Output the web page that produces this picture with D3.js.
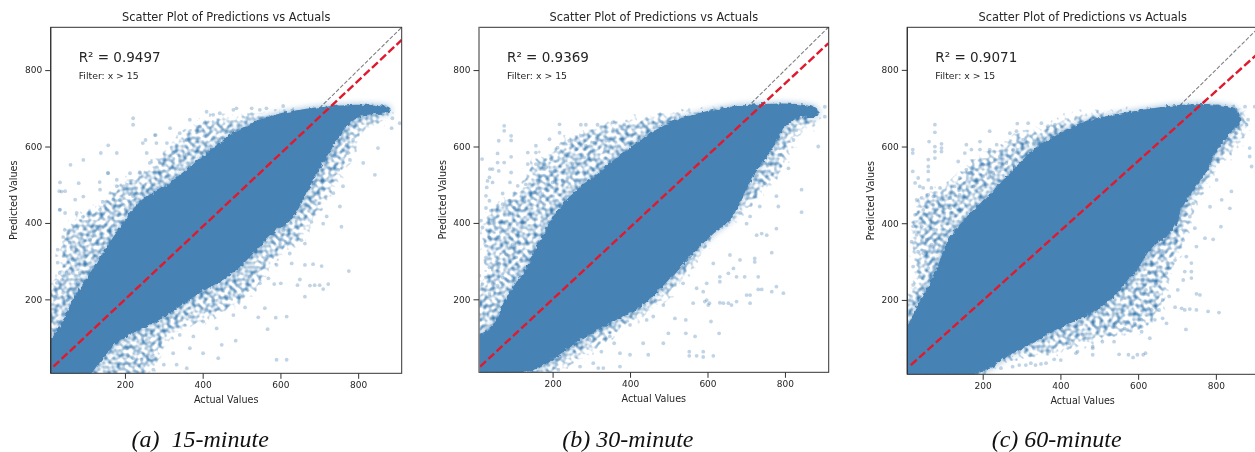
<!DOCTYPE html>
<html>
<head>
<meta charset="utf-8">
<script src="https://cdn.jsdelivr.net/npm/d3@7"></script>
<style>
  html, body { margin: 0; padding: 0; background: #fff; overflow: hidden; }
  svg { display: block; filter: blur(0.3px); }
  text { font-family: "DejaVu Sans", sans-serif; fill: #262626; }
  .caption { font-family: "Liberation Serif", serif; font-style: italic; fill: #111; }
</style>
</head>
<body>
<div id="chart"></div>
<script>
// Values
const captions = ["(a)  15-minute", "(b) 30-minute", "(c) 60-minute"];
const r2Values = ["0.9497", "0.9369", "0.9071"];
const tickValues = [200, 400, 600, 800];
const titleText = "Scatter Plot of Predictions vs Actuals";
const filterText = "Filter: x > 15";
const xLabel = "Actual Values";
const yLabel = "Predicted Values";

// [actual, predicted] ends of the fitted (red) line
const fit15 = [[16, 24], [912, 879]];
const fit30 = [[13, 24], [912, 870]];
const fit60 = [[15, 30], [912, 846]];

// solid part of each cloud, upper edge then lower edge
const coreUpper15 = [[12,102],[50,165],[66,199],[110,269],[153,337],[238,455],[308,500],[367,547],[478,635],[565,677],[650,696],[735,706],[823,709],[882,701]];
const coreLower15 = [[882,690],[823,683],[779,662],[735,599],[694,531],[632,416],[581,374],[478,269],[393,217],[290,147],[179,86],[135,34],[117,8]];
const coreUpper30 = [[10,105],[49,139],[80,204],[132,283],[158,335],[217,439],[269,492],[313,528],[365,570],[432,620],[484,654],[535,675],[638,701],[742,711],[830,711],[884,698]];
const coreLower30 = [[884,680],[830,675],[794,641],[768,596],[716,518],[682,450],[657,405],[623,379],[553,309],[483,230],[424,178],[346,136],[269,92],[210,47],[148,13],[122,8]];
const coreUpper60 = [[7,135],[31,187],[46,208],[82,286],[116,364],[160,417],[237,495],[288,550],[340,600],[406,638],[458,664],[509,677],[612,696],[715,709],[802,709],[854,696],[862,662]];
const coreLower60 = [[844,643],[810,599],[777,539],[715,443],[689,383],[630,330],[597,278],[545,218],[494,174],[406,130],[329,88],[262,51],[211,17],[185,9]];

// speckled band around the solid part
const hazeUpper15 = [[14,251],[32,382],[76,426],[135,460],[187,513],[238,539],[308,609],[393,677],[478,690],[606,703],[735,711],[823,714],[890,703]];
const hazeLower15 = [[890,669],[823,635],[787,565],[735,468],[694,408],[650,337],[591,296],[529,207],[437,147],[323,94],[290,16],[264,8]];
const hazeUpper30 = [[11,248],[11,405],[29,439],[80,476],[114,502],[148,581],[192,588],[225,628],[269,646],[365,675],[432,685],[520,701],[613,706],[742,714],[830,714],[889,706]];
const hazeLower30 = [[894,654],[838,628],[804,536],[742,466],[682,405],[638,379],[571,283],[520,215],[432,144],[365,100],[287,39],[225,13],[210,8]];
const hazeUpper60 = [[13,234],[8,390],[26,461],[72,495],[123,521],[160,565],[227,599],[270,636],[347,656],[406,683],[509,701],[630,706],[715,711],[818,717],[880,703]];
const hazeLower60 = [[888,643],[862,591],[818,547],[785,495],[751,435],[733,364],[690,260],[664,166],[612,114],[561,104],[476,78],[391,51],[288,36],[227,17],[214,9]];

// single dots that stand apart from the cloud
const points15 = [[776,274],[723,240],[701,237],[688,237],[710,227],[676,236],[644,237],[650,252],[663,207],[706,287],[684,292],[663,290],[629,294],[601,242],[584,240],[616,155],[588,152],[567,122],[543,153],[560,177],[509,179],[485,92],[449,81],[440,46],[616,42],[590,42],[401,59],[367,72],[359,20],[333,29],[300,29],[273,16],[243,42],[269,50],[341,107],[401,142],[436,124],[479,159],[547,242],[569,255],[590,290],[624,320],[654,355],[663,346],[680,403],[710,398],[757,390],[607,381],[599,346],[564,311],[521,259],[461,207],[410,172],[367,155],[290,85],[221,46],[204,72],[256,94],[324,59],[376,103],[427,198],[496,211],
  [843,526],[813,557],[851,596],[888,674],[886,648],[907,661],[770,604],[749,539],[761,496],[736,478],[701,452],[740,574],[779,565],[787,617],[774,583],[719,417],[753,443],
  [221,674],[221,657],[157,603],[179,583],[138,583],[60,552],[93,565],[33,506],[81,504],[31,483],[46,483],[33,435],[72,461],[93,469],[46,426],[136,435],[157,530],[179,496],[239,530],[279,630],[253,617],[281,609],[256,583],[316,648],[341,635],[367,670],[410,691],[427,683],[393,652],[444,687],[479,696],[487,700],[526,700],[607,706],[547,696],[564,700],[359,617],[290,557],[213,530],[196,496],[136,487],[170,461],[221,470],[106,426],[76,426],
  [37,482],[32,434],[45,382],[41,363],[27,330],[66,303],[32,269],[25,243],[84,269],[41,217],[92,416],[135,382],[110,426],[76,330],[58,348],[92,348],[71,225],[27,296],[50,269],[66,269],[20,207],[53,199],[38,251],[79,243],[97,311],[110,356],[128,390],[143,455],[156,531],[179,513],[135,507],[187,460],[205,500],[238,533],[264,557],[277,630],[246,609],[308,609],[324,583],[359,578]];
const points30 = [[796,216],[778,233],[766,220],[740,226],[731,226],[710,211],[701,211],[710,190],[675,194],[662,185],[654,190],[641,190],[632,191],[605,190],[593,194],[602,185],[630,111],[609,142],[568,103],[544,146],[544,111],[615,52],[589,63],[589,49],[572,52],[553,63],[553,52],[447,55],[434,85],[486,85],[374,24],[331,20],[318,20],[326,63],[305,33],[271,24],[215,16],[184,33],[163,24],[400,55],[374,59],[359,85],[400,133],[443,146],[499,111],[516,150],[563,190],[598,198],[589,220],[537,242],[766,322],[778,385],[753,368],[722,307],[722,298],[731,259],[696,259],[675,259],[667,281],[684,303],[658,316],[654,268],[632,259],[632,246],[615,294],[598,242],[572,229],[486,185],[460,155],[348,103],[296,94],[253,77],[740,372],[727,368],[701,398],[649,394],
  [843,487],[886,600],[843,428],[903,704],[903,678],[882,691],[809,543],[778,470],[783,443],[748,504],[787,578],[822,617],[830,643],[735,443],[722,470],[710,417],[684,426],[761,557],
  [75,654],[75,641],[93,628],[93,616],[61,615],[58,582],[93,573],[18,567],[58,558],[75,558],[136,584],[157,602],[157,584],[192,619],[218,658],[218,636],[273,657],[286,657],[316,657],[355,663],[385,658],[38,541],[45,541],[61,536],[93,532],[90,506],[37,519],[32,510],[45,506],[71,477],[30,493],[110,497],[136,554],[179,554],[157,554],[131,501],[162,510],[28,471],[37,458],[28,439],[41,432],[71,449],[88,458],[101,440],[127,458],[153,480],[15,406],[19,388],[45,406],[54,384],[37,362],[28,340],[28,310],[62,362],[88,388],[80,318],[97,344],[106,310],[37,284],[28,257],[62,292],[71,257],[19,240],[45,240],[37,214],[58,236],[11,262],[196,567],[213,597],[183,545],[243,615],[273,628],[308,610],[338,615],[261,593],[286,602],[235,580],[205,536],[200,506],[174,475],[226,510],[252,554],[282,571]];
const points60 = [[808,167],[780,170],[750,174],[733,176],[720,174],[712,178],[695,181],[723,123],[772,361],[793,358],[813,391],[750,216],[759,213],[737,274],[737,257],[720,274],[630,100],[609,117],[609,130],[673,139],[663,152],[643,148],[626,178],[635,174],[613,57],[619,61],[598,57],[587,50],[575,57],[551,58],[483,57],[483,78],[440,61],[444,65],[401,43],[384,45],[363,35],[350,33],[336,30],[324,35],[311,30],[294,30],[277,26],[247,22],[225,26],[538,91],[508,91],[483,74],[565,126],[591,139],[609,148],[680,209],[663,200],[654,174],[702,226],[716,252],[737,296],[750,339],[724,313],[695,304],[673,270],[646,243],[620,226],[585,190],[542,139],[499,122],[457,109],[423,87],[371,65],[716,356],[746,387],[695,352],[663,322],[628,270],[611,252],
  [887,596],[887,574],[892,548],[900,704],[879,657],[883,670],[875,704],[840,483],[836,439],[815,461],[802,513],[780,565],[759,496],[742,452],[785,443],[767,513],[733,417],[793,591],[827,617],[853,635],
  [77,657],[77,637],[20,592],[20,583],[62,613],[77,600],[77,587],[94,607],[94,596],[94,587],[77,570],[60,566],[60,548],[60,535],[20,535],[34,518],[26,505],[38,496],[47,492],[68,492],[90,492],[60,513],[43,466],[60,474],[30,461],[73,470],[73,448],[94,461],[116,466],[90,444],[116,439],[47,435],[26,422],[128,496],[141,518],[158,540],[137,561],[154,583],[158,605],[171,592],[193,592],[193,613],[218,640],[218,592],[236,605],[270,635],[287,640],[317,661],[289,660],[351,661],[368,653],[386,657],[21,392],[17,352],[43,392],[30,370],[73,383],[56,357],[34,326],[68,344],[98,339],[47,322],[73,309],[94,296],[21,287],[38,261],[60,283],[47,226],[21,239],[68,252],[141,474],[176,496],[201,553],[244,574],[278,592],[304,618],[338,613],[201,522],[227,531],[261,557],[167,531],[116,409],[141,435]];

// Panel frames on the page
const panels = [
  { left: 50.7, right: 401.7, top: 27.3, bottom: 373.3, xDomain: [9, 912], yDomain: [6.5, 912], leftSpine: "#333",
    fit: fit15, coreUpper: coreUpper15, coreLower: coreLower15, hazeUpper: hazeUpper15, hazeLower: hazeLower15, points: points15 },
  { left: 479, right: 828.7, top: 27.3, bottom: 372.3, xDomain: [10, 913], yDomain: [9, 912], leftSpine: "#999",
    fit: fit30, coreUpper: coreUpper30, coreLower: coreLower30, hazeUpper: hazeUpper30, hazeLower: hazeLower30, points: points30 },
  { left: 907.3, right: 1259, top: 27.3, bottom: 374.3, xDomain: [6, 911], yDomain: [6, 911], leftSpine: "#333",
    fit: fit60, coreUpper: coreUpper60, coreLower: coreLower60, hazeUpper: hazeUpper60, hazeLower: hazeLower60, points: points60 }
];

const width = 1255;
const height = 452;
const blue = "#4682b4";

const svg = d3.select("#chart").append("svg")
    .attr("width", width)
    .attr("height", height);
const defs = svg.append("defs");

// grainy texture for the band of overlapping dots
const speckle = defs.append("filter")
    .attr("id", "speckle")
    .attr("filterUnits", "userSpaceOnUse")
    .attr("x", 0).attr("y", 0).attr("width", width).attr("height", height)
    .attr("color-interpolation-filters", "sRGB");
speckle.append("feGaussianBlur").attr("in", "SourceAlpha").attr("stdDeviation", 6).attr("result", "spread");
speckle.append("feTurbulence").attr("type", "fractalNoise").attr("baseFrequency", 0.24).attr("numOctaves", 1).attr("seed", 7).attr("result", "noise");
speckle.append("feColorMatrix").attr("in", "noise").attr("type", "matrix")
    .attr("values", "0 0 0 0 0  0 0 0 0 0  0 0 0 0 0  1.6 0 0 0 -0.3").attr("result", "grain");
speckle.append("feComposite").attr("in", "spread").attr("in2", "grain").attr("operator", "arithmetic")
    .attr("k1", 0).attr("k2", 0.54).attr("k3", 0.6).attr("k4", -0.72).attr("result", "mix");
const gain = speckle.append("feComponentTransfer").attr("in", "mix").attr("result", "gain");
gain.append("feFuncA").attr("type", "linear").attr("slope", 2.6);
speckle.append("feFlood").attr("flood-color", blue).attr("result", "ink");
speckle.append("feComposite").attr("in", "ink").attr("in2", "gain").attr("operator", "in");

// rough edge for the solid cloud
const rough = defs.append("filter")
    .attr("id", "rough")
    .attr("filterUnits", "userSpaceOnUse")
    .attr("x", 0).attr("y", 0).attr("width", width).attr("height", height)
    .attr("color-interpolation-filters", "sRGB");
rough.append("feTurbulence").attr("type", "fractalNoise").attr("baseFrequency", 0.25).attr("numOctaves", 2).attr("seed", 3).attr("result", "noise");
rough.append("feDisplacementMap").attr("in", "SourceGraphic").attr("in2", "noise").attr("scale", 5)
    .attr("xChannelSelector", "R").attr("yChannelSelector", "G");

// soft halo that fades the solid cloud into the band
defs.append("filter")
    .attr("id", "halo")
    .attr("filterUnits", "userSpaceOnUse")
    .attr("x", 0).attr("y", 0).attr("width", width).attr("height", height)
    .append("feGaussianBlur").attr("stdDeviation", 3.5);

panels.forEach((p, i) => {
  const x = d3.scaleLinear().domain(p.xDomain).range([p.left, p.right]);
  const y = d3.scaleLinear().domain(p.yDomain).range([p.bottom, p.top]);
  const line = d3.line().x(d => x(d[0])).y(d => y(d[1]));
  const cloud = d3.line().x(d => x(d[0])).y(d => y(d[1])).curve(d3.curveCatmullRomClosed.alpha(0.5));
  // corners pushed past the frame so the rough edge never shows inside it
  const cornerLow = [p.xDomain[0] - 40, p.yDomain[0] - 40];
  const cornerLeft = up => [p.xDomain[0] - 40, up[0][1] - 20];
  const cornerRight = low => [low[low.length - 1][0], p.yDomain[0] - 40];
  const corePath = cloud([cornerLeft(p.coreUpper), ...p.coreUpper, ...p.coreLower, cornerRight(p.coreLower), cornerLow]);

  defs.append("clipPath")
      .attr("id", "clip" + i)
      .append("rect")
      .attr("x", p.left).attr("y", p.top)
      .attr("width", p.right - p.left).attr("height", p.bottom - p.top);

  const plot = svg.append("g").attr("clip-path", `url(#clip${i})`);

  // y = x reference
  plot.append("path")
      .attr("d", line([[p.xDomain[0], p.xDomain[0]], [p.xDomain[1], p.xDomain[1]]]))
      .attr("fill", "none")
      .attr("stroke", "#808080")
      .attr("stroke-width", 1.1)
      .attr("stroke-dasharray", "4 1.8");

  // speckled band
  plot.append("path")
      .attr("d", cloud([cornerLeft(p.hazeUpper), ...p.hazeUpper, ...p.hazeLower, cornerRight(p.hazeLower), cornerLow]))
      .attr("fill", blue)
      .attr("filter", "url(#speckle)");

  plot.append("path")
      .attr("d", corePath)
      .attr("fill", blue)
      .attr("opacity", 0.6)
      .attr("filter", "url(#halo)");

  // solid cloud
  plot.append("path")
      .attr("d", corePath)
      .attr("fill", blue)
      .attr("filter", "url(#rough)");

  // separate dots
  plot.selectAll("circle")
    .data(p.points)
    .join("circle")
      .attr("cx", d => x(d[0]))
      .attr("cy", d => y(d[1]))
      .attr("r", 1.9)
      .attr("fill", blue)
      .attr("opacity", 0.34);

  // fitted line
  plot.append("path")
      .attr("d", line(p.fit))
      .attr("fill", "none")
      .attr("stroke", "#e0192d")
      .attr("stroke-width", 2.4)
      .attr("stroke-dasharray", "8 3.2");

  // spines
  svg.append("rect")
      .attr("x", p.left).attr("y", p.top)
      .attr("width", p.right - p.left).attr("height", p.bottom - p.top)
      .attr("fill", "none")
      .attr("stroke", "#333")
      .attr("stroke-width", 1);
  svg.append("line")
      .attr("x1", p.left).attr("x2", p.left)
      .attr("y1", p.top).attr("y2", p.bottom)
      .attr("stroke", p.leftSpine)
      .attr("stroke-width", 1.2);

  // axes
  const xAxis = svg.append("g")
      .attr("transform", `translate(0,${p.bottom})`)
      .call(d3.axisBottom(x).tickValues(tickValues).tickSize(5.5).tickPadding(3).tickSizeOuter(0));
  const yAxis = svg.append("g")
      .attr("transform", `translate(${p.left},0)`)
      .call(d3.axisLeft(y).tickValues(tickValues).tickSize(5.5).tickPadding(3).tickSizeOuter(0));
  [xAxis, yAxis].forEach(a => {
    a.select(".domain").remove();
    a.selectAll("line").attr("stroke", "#333");
    a.selectAll("text").style("font-size", "9px").style("font-family", '"DejaVu Sans", sans-serif').attr("fill", "#262626");
  });

  const cx = (p.left + (i === 2 ? 1258 : p.right)) / 2;

  svg.append("text")
      .attr("x", cx).attr("y", p.top - 6)
      .attr("text-anchor", "middle")
      .style("font-size", "11.4px")
      .text(titleText);
  svg.append("text")
      .attr("x", cx).attr("y", p.bottom + 29.5)
      .attr("text-anchor", "middle")
      .style("font-size", "9.6px")
      .text(xLabel);
  svg.append("text")
      .attr("transform", `translate(${p.left - 33.5},${(p.top + p.bottom) / 2}) rotate(-90)`)
      .attr("text-anchor", "middle")
      .style("font-size", "9.6px")
      .text(yLabel);
  svg.append("text")
      .attr("x", p.left + 28).attr("y", 62)
      .style("font-size", "13.5px")
      .text("R² = " + r2Values[i]);
  svg.append("text")
      .attr("x", p.left + 28).attr("y", 79)
      .style("font-size", "9.3px")
      .text(filterText);
  svg.append("text")
      .attr("class", "caption")
      .attr("x", cx - 26)
      .attr("y", 447)
      .attr("text-anchor", "middle")
      .style("font-size", "24px")
      .style("white-space", "pre")
      .text(captions[i]);
});
</script>
</body>
</html>
